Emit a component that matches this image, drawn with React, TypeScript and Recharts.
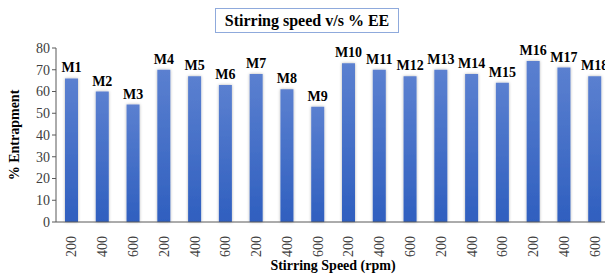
import React from "react";
import { BarChart, Bar, XAxis, YAxis, LabelList, Label } from "recharts";

const formulations = [
  "M1", "M2", "M3", "M4", "M5", "M6", "M7", "M8", "M9",
  "M10", "M11", "M12", "M13", "M14", "M15", "M16", "M17", "M18",
];
const speeds = [
  "200", "400", "600", "200", "400", "600", "200", "400", "600",
  "200", "400", "600", "200", "400", "600", "200", "400", "600",
];
const entrapment = [66, 60, 54, 70, 67, 63, 68, 61, 53, 73, 70, 67, 70, 68, 64, 74, 71, 67];
const yTicks = [0, 10, 20, 30, 40, 50, 60, 70, 80];

const data = formulations.map((name, i) => ({
  name,
  speed: speeds[i],
  ee: entrapment[i],
}));

const FONT = "'Liberation Serif', 'Times New Roman', serif";

function SpeedTick(props: any) {
  const { x, y, payload, index } = props;
  return (
    <text
      x={x}
      y={y}
      transform={`rotate(-90, ${x}, ${y})`}
      textAnchor="end"
      dy="0.36em"
      dx={-6}
      fontFamily={FONT}
      fontSize={14}
      fill="#404040"
    >
      {speeds[index] ?? payload.value}
    </text>
  );
}

export default function App() {
  return (
    <div
      style={{
        position: "fixed",
        left: 0,
        top: 0,
        width: 605,
        height: 274,
        overflow: "hidden",
        background: "#fff",
      }}
    >
      <div
        style={{
          position: "absolute",
          left: 215,
          top: 8,
          width: 184,
          height: 25,
          border: "1px solid #8faadc",
          boxSizing: "border-box",
          fontFamily: FONT,
          fontWeight: "bold",
          fontSize: 16,
          lineHeight: "23px",
          textAlign: "center",
          color: "#000",
        }}
      >
        Stirring speed v/s % EE
      </div>
      <BarChart
        width={620}
        height={274}
        data={data}
        margin={{ top: 48, right: 10, bottom: 0, left: 0 }}
        barSize={13}
        style={{ position: "absolute", left: 0, top: 0 }}
      >
        <defs>
          <linearGradient id="barFill" x1="0" y1="0" x2="0" y2="1">
            <stop offset="0%" stopColor="#5b80d0" />
            <stop offset="100%" stopColor="#2f5fbf" />
          </linearGradient>
          <filter id="barShadow" x="-50%" y="-10%" width="200%" height="120%">
            <feDropShadow dx="0" dy="0" stdDeviation="1.6" floodColor="#000" floodOpacity="0.3" />
          </filter>
        </defs>
        <XAxis
          dataKey="name"
          interval={0}
          tickLine={false}
          axisLine={{ stroke: "#595959" }}
          tick={<SpeedTick />}
          height={52}
        >
          <Label
            value="Stirring Speed (rpm)"
            position="insideBottom"
            offset={4}
            style={{ fontFamily: FONT, fontWeight: "bold", fontSize: 14, fill: "#000" }}
          />
        </XAxis>
        <YAxis
          domain={[0, 80]}
          ticks={yTicks}
          width={56}
          tickLine={{ stroke: "#595959" }}
          tickSize={4}
          axisLine={{ stroke: "#595959" }}
          tick={{ fontFamily: FONT, fontSize: 14, fill: "#404040" }}
        >
          <Label
            value="% Entrapment"
            angle={-90}
            position="insideLeft"
            offset={14}
            style={{
              textAnchor: "middle",
              fontFamily: FONT,
              fontWeight: "bold",
              fontSize: 14,
              fill: "#000",
            }}
          />
        </YAxis>
        <Bar
          dataKey="ee"
          fill="url(#barFill)"
          filter="url(#barShadow)"
          isAnimationActive={false}
        >
          <LabelList
            dataKey="name"
            position="top"
            offset={6}
            style={{ fontFamily: FONT, fontWeight: "bold", fontSize: 14, fill: "#000" }}
          />
        </Bar>
      </BarChart>
    </div>
  );
}
